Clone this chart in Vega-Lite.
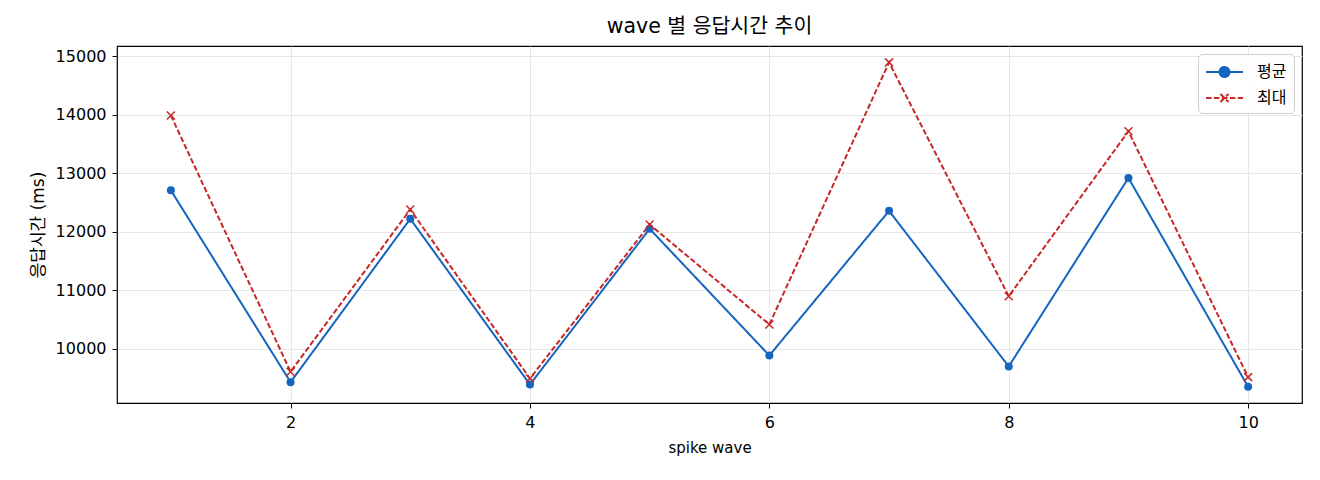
{
  "$schema": "https://vega.github.io/schema/vega-lite/v6.json",
  "autosize": "none",
  "padding": {"left": 117, "top": 46, "right": 18, "bottom": 77},
  "width": 1185,
  "height": 357,
  "background": "white",
  "title": {
    "text": "wave 별 응답시간 추이",
    "fontSize": 20.5,
    "fontWeight": "normal",
    "color": "#000000",
    "offset": 9,
    "anchor": "middle"
  },
  "config": {
    "font": "DejaVu Sans, Noto Sans CJK KR",
    "view": {"stroke": "#000000", "strokeWidth": 1.2},
    "axis": {
      "domain": false,
      "grid": true,
      "gridColor": "#e6e6e6",
      "gridWidth": 1,
      "tickColor": "#000000",
      "tickSize": 5,
      "labelFontSize": 16,
      "labelColor": "#000000",
      "titleFontSize": 15,
      "titleFontWeight": "normal",
      "titleColor": "#000000"
    }
  },
  "data": {
    "values": [
      {"wave": 1, "series": "평균", "value": 12709},
      {"wave": 2, "series": "평균", "value": 9429},
      {"wave": 3, "series": "평균", "value": 12222},
      {"wave": 4, "series": "평균", "value": 9390},
      {"wave": 5, "series": "평균", "value": 12051},
      {"wave": 6, "series": "평균", "value": 9885},
      {"wave": 7, "series": "평균", "value": 12358},
      {"wave": 8, "series": "평균", "value": 9698},
      {"wave": 9, "series": "평균", "value": 12921},
      {"wave": 10, "series": "평균", "value": 9350},
      {"wave": 1, "series": "최대", "value": 13990},
      {"wave": 2, "series": "최대", "value": 9607},
      {"wave": 3, "series": "최대", "value": 12381},
      {"wave": 4, "series": "최대", "value": 9492},
      {"wave": 5, "series": "최대", "value": 12125},
      {"wave": 6, "series": "최대", "value": 10415},
      {"wave": 7, "series": "최대", "value": 14897},
      {"wave": 8, "series": "최대", "value": 10898},
      {"wave": 9, "series": "최대", "value": 13720},
      {"wave": 10, "series": "최대", "value": 9515}
    ]
  },
  "encoding": {
    "x": {
      "field": "wave",
      "type": "quantitative",
      "scale": {"domain": [0.55, 10.45], "nice": false, "zero": false},
      "axis": {
        "title": "spike wave",
        "values": [2, 4, 6, 8, 10],
        "labelPadding": 6,
        "titlePadding": 10
      }
    },
    "y": {
      "field": "value",
      "type": "quantitative",
      "scale": {"domain": [9073, 15177], "nice": false, "zero": false},
      "axis": {
        "title": "응답시간 (ms)",
        "titleFontSize": 17,
        "format": "d",
        "values": [10000, 11000, 12000, 13000, 14000, 15000],
        "labelPadding": 6,
        "titlePadding": 8
      }
    }
  },
  "layer": [
    {
      "mark": {"type": "line", "strokeWidth": 2},
      "encoding": {
        "color": {
          "field": "series",
          "type": "nominal",
          "scale": {"domain": ["평균", "최대"], "range": ["#1565c0", "#c62828"]},
          "legend": {
            "title": null,
            "orient": "top-right",
            "offset": 8,
            "padding": 7,
            "cornerRadius": 4,
            "strokeColor": "#cccccc",
            "fillColor": "rgba(255,255,255,0.85)",
            "symbolSize": 400,
            "labelFontSize": 16,
            "labelColor": "#000000",
            "labelOffset": 30,
            "rowPadding": 6,
            "encode": {
              "symbols": {
                "update": {
                  "shape": {"signal": "datum.value === '평균' ? 'M-1,0L2.7,0M1.35,0A0.5,0.5 0 1,1 0.35,0A0.5,0.5 0 1,1 1.35,0Z' : 'M-1,0L-0.445,0M-0.205,0L0.35,0M0.59,0L1.145,0M1.385,0L1.94,0M2.18,0L2.7,0M0.45,-0.4L1.25,0.4M0.45,0.4L1.25,-0.4'"},
                  "fill": {"signal": "datum.value === '평균' ? '#1565c0' : 'transparent'"},
                  "stroke": {"signal": "datum.value === '평균' ? '#1565c0' : '#c62828'"},
                  "strokeWidth": {"value": 2},
                  "opacity": {"value": 1}
                }
              }
            }
          }
        },
        "strokeDash": {
          "field": "series",
          "type": "nominal",
          "scale": {"domain": ["평균", "최대"], "range": [[1, 0], [5.5, 2.4]]},
          "legend": null
        }
      }
    },
    {
      "transform": [{"filter": "datum.series === '평균'"}],
      "mark": {"type": "point", "shape": "circle", "filled": true, "color": "#1565c0", "size": 64, "opacity": 1}
    },
    {
      "transform": [{"filter": "datum.series === '최대'"}],
      "mark": {"type": "point", "shape": "M-1,-1L1,1M-1,1L1,-1", "filled": false, "stroke": "#c62828", "strokeWidth": 1.5, "size": 64, "opacity": 1}
    }
  ]
}
